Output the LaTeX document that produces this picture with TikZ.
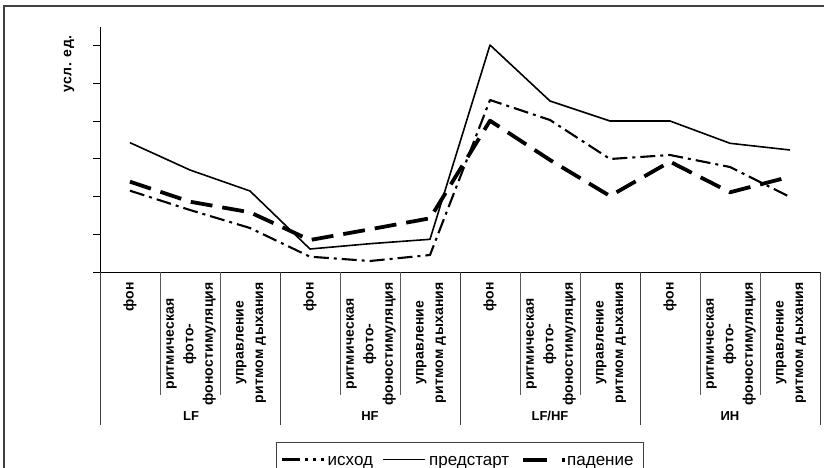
\documentclass[tikz,border=0pt]{standalone}
\usepackage{fontspec}
\setmainfont{Liberation Sans}
\begin{document}
\begin{tikzpicture}[x=1pt,y=-1pt,
  frame/.style={draw=black!75, line width=1.3pt},
  axisline/.style={draw=black, line width=1pt},
  catsep/.style={draw=black!65, line width=0.9pt},
  grpsep/.style={draw=black!75, line width=1pt},
  iskhod/.style={line width=2.1pt, dash pattern=on 15pt off 5pt on 3pt off 5pt, line join=round},
  predstart/.style={line width=1.6pt, line join=round},
  padenie/.style={line width=3.8pt, dash pattern=on 22pt off 10pt, line join=round},
  catlabel/.style={rotate=90, anchor=east, align=center, font=\bfseries\fontsize{14}{19.5}\selectfont\addfontfeature{LetterSpace=1.4}, inner sep=0pt},
  grplabel/.style={font=\bfseries\fontsize{13}{15}\selectfont, inner sep=0pt},
  legtext/.style={font=\fontsize{17}{19}\selectfont, anchor=base west, inner sep=0pt},
  legbox/.style={draw=black!75, line width=1pt},
]
\useasboundingbox (0,0) rectangle (824,468);
\fill[white] (0,0) rectangle (824,468);
\draw[frame] (4,480) -- (4,6) -- (830,6);

% axes
\draw[axisline] (100,272) -- (100,27);
\foreach \k in {0,...,6} \draw[axisline] (93,{272-37.67*\k}) -- (100,{272-37.67*\k});
\draw[axisline] (93,272) -- (820.7,272);
\foreach \x in {160,220,340,400,520,580,700,760} \draw[catsep] (\x,272) -- (\x,395);
\foreach \x in {100,280,460,640,820.7} \draw[grpsep] (\x,272) -- (\x,425);

\node[rotate=90, font=\bfseries\fontsize{14}{16}\selectfont\addfontfeature{LetterSpace=3.5}, inner sep=0pt] (ylab) at (69,64) {усл. ед.};

% category labels
\foreach \g in {0,1,2,3}{
  \node[catlabel] (c\g a) at ({130+180*\g},282) {фон};
  \node[catlabel] (c\g b) at ({191+180*\g},282) {ритмическая\\фото-\\фоностимуляция};
  \node[catlabel] (c\g c) at ({251+180*\g},282) {управление\\ритмом дыхания};
}
\node[grplabel] (gLF) at (191,416) {LF};
\node[grplabel] (gHF) at (370,416) {HF};
\node[grplabel] (gLFHF) at (550,416) {LF/HF};
\node[grplabel] (gIN) at (730,416) {ИН};

% data
\foreach \v [count=\k] in {190.7,210,228,256.7,261,255,100,120,159,155,167,197}
  \coordinate (i\k) at ({70+60*\k},\v);
\foreach \v [count=\k] in {142.7,170,191,249,243.7,239.3,45,101,121,121,143.3,150}
  \coordinate (p\k) at ({70+60*\k},\v);
\foreach \v [count=\k] in {181.7,201.7,212.3,240,229.3,218.3,120.7,160,196,161.7,192.3,176.7}
  \coordinate (d\k) at ({70+60*\k},\v);

\draw[iskhod] (i1) \foreach \k in {2,...,12}{ -- (i\k)};
\draw[predstart] (p1) \foreach \k in {2,...,12}{ -- (p\k)};
\draw[padenie] (d1) \foreach \k in {2,...,12}{ -- (d\k)};

% legend
\draw[legbox] (276,475) -- (276,442.5) -- (643,442.5) -- (643,475);
\coordinate (la1) at (282,459.5); \coordinate (la2) at (324,459.5);
\coordinate (lb1) at (383,459.5); \coordinate (lb2) at (425,459.5);
\coordinate (lc1) at (523,459.5); \coordinate (lc2) at (564.5,459.5);
\draw[line width=2.4pt, dash pattern=on 18pt off 5pt on 3pt off 5pt on 3pt off 5pt on 3pt off 5pt] (la1) -- (la2);
\draw[predstart] (lb1) -- (lb2);
\draw[line width=4pt, dash pattern=on 24pt off 15pt on 2.5pt off 10pt] (lc1) -- (lc2);
\node[legtext] (lt1) at (327.5,465) {исход};
\node[legtext] (lt2) at (429,465) {предстарт};
\node[legtext] (lt3) at (567,465) {падение};
\end{tikzpicture}
\end{document}
